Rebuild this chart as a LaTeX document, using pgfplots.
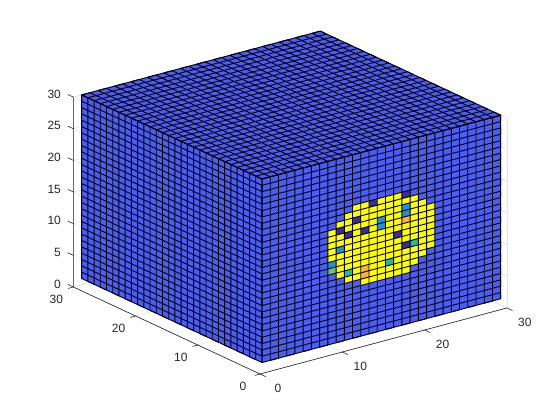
\documentclass[border=0pt]{standalone}
\usepackage{pgfplots}
\pgfplotsset{compat=1.18}
\usepackage{fontspec}
\setmainfont{Liberation Sans}
\definecolor{vox}{HTML}{4A5DF6}
\definecolor{vyel}{HTML}{FFFF00}
\definecolor{vpur}{HTML}{3A2CA0}
\definecolor{vblu}{HTML}{2090E0}
\definecolor{vtea}{HTML}{20B8B0}
\definecolor{vgre}{HTML}{70C070}
\definecolor{vora}{HTML}{FDB040}
\definecolor{axc}{HTML}{262626}
\definecolor{grc}{HTML}{E3E3E3}
\begin{document}
\begin{tikzpicture}[x=1pt,y=1pt]
\path[use as bounding box] (0,0) rectangle (560,420);
\begin{axis}[
  anchor=origin, at={(260pt,46pt)},
  x={(8.23pt,2.2pt)}, y={(-6.22pt,2.9pt)}, z={(0pt,6.33pt)},
  xmin=0,xmax=30,ymin=0,ymax=30,zmin=0,zmax=30,
  xtick={0,10,20,30}, ytick={0,10,20,30}, ztick={0,5,10,15,20,25,30},
  clip=false,
  grid=major, grid style={color=grc,line width=0.6pt},
  axis line style={color=grc,line width=0.6pt},
  tick pos=left, major tick length=0pt,
  /pgf/number format/assume math mode=true,
  tick label style={font=\fontsize{12}{14}\selectfont,text=axc},
  xticklabel style={anchor=center,xshift=18pt,yshift=-14pt},
  yticklabel style={anchor=center,xshift=-17pt,yshift=-12.5pt},
  zticklabel style={anchor=east,xshift=-9pt,yshift=3pt},
  edge/.style={color=black,line width=0.9pt,line join=bevel,mark=none},
]
% short light marks on the walls
\addplot3[color=grc,line width=0.6pt] coordinates {
(0,30,5)(0,28.7,5)

(0,30,10)(0,28.7,10)

(0,30,15)(0,28.7,15)

(0,30,20)(0,28.7,20)

(0,30,25)(0,28.7,25)

(0,30,30)(0,28.7,30)

(30,0,5)(30,1,5)

(30,0,10)(30,1,10)

(30,0,15)(30,1,15)

(30,0,20)(30,1,20)

(30,0,25)(30,1,25)
};
% dark axis lines
\addplot3[color=axc,line width=0.6pt] coordinates {(30,0,0)(0,0,0)(0,30,0)(0,30,30)};
% dark tick marks
\addplot3[color=axc,line width=0.6pt] coordinates {
(0,0,0)(0,-0.9,0)

(10,0,0)(10,-0.9,0)

(20,0,0)(20,-0.9,0)

(30,0,0)(30,-0.9,0)

(0,0,0)(-0.65,0,0)

(0,10,0)(-0.65,10,0)

(0,20,0)(-0.65,20,0)

(0,30,0)(-0.65,30,0)

(0,30,0)(0,30.9,0)

(0,30,5)(0,30.9,5)

(0,30,10)(0,30.9,10)

(0,30,15)(0,30.9,15)

(0,30,20)(0,30.9,20)

(0,30,25)(0,30.9,25)

(0,30,30)(0,30.9,30)
};
% faces
\addplot3[fill=vox,draw=none] coordinates {(1,1,30)(30,1,30)(30,30,30)(1,30,30)};
\addplot3[fill=vox,draw=none] coordinates {(1,1,1)(1,30,1)(1,30,30)(1,1,30)};
\addplot3[fill=vox,draw=none] coordinates {(1,1,1)(30,1,1)(30,1,30)(1,1,30)};
% yellow cells by column, right face
\addplot3[fill=vyel,draw=none] coordinates {
(9,1,12)(10,1,12)(10,1,19)(9,1,19)

(10,1,11)(11,1,11)(11,1,20)(10,1,20)

(11,1,10)(12,1,10)(12,1,21)(11,1,21)

(12,1,10)(13,1,10)(13,1,22)(12,1,22)

(13,1,9)(14,1,9)(14,1,22)(13,1,22)

(14,1,9)(15,1,9)(15,1,22)(14,1,22)

(15,1,9)(16,1,9)(16,1,22)(15,1,22)

(16,1,9)(17,1,9)(17,1,22)(16,1,22)

(17,1,9)(18,1,9)(18,1,22)(17,1,22)

(18,1,9)(19,1,9)(19,1,22)(18,1,22)

(19,1,10)(20,1,10)(20,1,21)(19,1,21)

(20,1,11)(21,1,11)(21,1,20)(20,1,20)

(21,1,12)(22,1,12)(22,1,19)(21,1,19)
};
% dark purple cells
\addplot3[fill=vpur,draw=none] coordinates {
(10,1,18)(11,1,18)(11,1,19)(10,1,19)

(11,1,17)(12,1,17)(12,1,18)(11,1,18)

(12,1,19)(13,1,19)(13,1,20)(12,1,20)

(13,1,17)(14,1,17)(14,1,18)(13,1,18)

(14,1,21)(15,1,21)(15,1,22)(14,1,22)

(17,1,15)(18,1,15)(18,1,16)(17,1,16)

(18,1,21)(19,1,21)(19,1,22)(18,1,22)

(18,1,13)(19,1,13)(19,1,14)(18,1,14)
};
% blue cells
\addplot3[fill=vblu,draw=none] coordinates {
(9,1,13)(10,1,13)(10,1,14)(9,1,14)

(10,1,15)(11,1,15)(11,1,16)(10,1,16)

(15,1,17)(16,1,17)(16,1,19)(15,1,19)

(18,1,18)(19,1,18)(19,1,20)(18,1,20)
};
% teal cells
\addplot3[fill=vtea,draw=none] coordinates {
(11,1,11)(12,1,11)(12,1,12)(11,1,12)

(16,1,11)(17,1,11)(17,1,12)(16,1,12)

(19,1,13)(20,1,13)(20,1,14)(19,1,14)
};
% green cell
\addplot3[fill=vgre,draw=none] coordinates {(9,1,12)(10,1,12)(10,1,13)(9,1,13)};
% orange cells
\addplot3[fill=vora,draw=none] coordinates {
(13,1,10)(14,1,10)(14,1,12)(13,1,12)

(18,1,17)(19,1,17)(19,1,18)(18,1,18)
};
% top face, lines of constant x
\addplot3[edge] coordinates {(1,1,30)(1,30,30)(2,30,30)(2,1,30)(3,1,30)(3,30,30)(4,30,30)(4,1,30)(5,1,30)(5,30,30)(6,30,30)(6,1,30)(7,1,30)(7,30,30)(8,30,30)(8,1,30)(9,1,30)(9,30,30)(10,30,30)(10,1,30)(11,1,30)(11,30,30)(12,30,30)(12,1,30)(13,1,30)(13,30,30)(14,30,30)(14,1,30)(15,1,30)(15,30,30)(16,30,30)(16,1,30)(17,1,30)(17,30,30)(18,30,30)(18,1,30)(19,1,30)(19,30,30)(20,30,30)(20,1,30)(21,1,30)(21,30,30)(22,30,30)(22,1,30)(23,1,30)(23,30,30)(24,30,30)(24,1,30)(25,1,30)(25,30,30)(26,30,30)(26,1,30)(27,1,30)(27,30,30)(28,30,30)(28,1,30)(29,1,30)(29,30,30)(30,30,30)(30,1,30)};
% top face, lines of constant y
\addplot3[edge] coordinates {(1,1,30)(30,1,30)(30,2,30)(1,2,30)(1,3,30)(30,3,30)(30,4,30)(1,4,30)(1,5,30)(30,5,30)(30,6,30)(1,6,30)(1,7,30)(30,7,30)(30,8,30)(1,8,30)(1,9,30)(30,9,30)(30,10,30)(1,10,30)(1,11,30)(30,11,30)(30,12,30)(1,12,30)(1,13,30)(30,13,30)(30,14,30)(1,14,30)(1,15,30)(30,15,30)(30,16,30)(1,16,30)(1,17,30)(30,17,30)(30,18,30)(1,18,30)(1,19,30)(30,19,30)(30,20,30)(1,20,30)(1,21,30)(30,21,30)(30,22,30)(1,22,30)(1,23,30)(30,23,30)(30,24,30)(1,24,30)(1,25,30)(30,25,30)(30,26,30)(1,26,30)(1,27,30)(30,27,30)(30,28,30)(1,28,30)(1,29,30)(30,29,30)(30,30,30)(1,30,30)};
% left face, vertical
\addplot3[edge] coordinates {(1,1,1)(1,1,30)(1,2,30)(1,2,1)(1,3,1)(1,3,30)(1,4,30)(1,4,1)(1,5,1)(1,5,30)(1,6,30)(1,6,1)(1,7,1)(1,7,30)(1,8,30)(1,8,1)(1,9,1)(1,9,30)(1,10,30)(1,10,1)(1,11,1)(1,11,30)(1,12,30)(1,12,1)(1,13,1)(1,13,30)(1,14,30)(1,14,1)(1,15,1)(1,15,30)(1,16,30)(1,16,1)(1,17,1)(1,17,30)(1,18,30)(1,18,1)(1,19,1)(1,19,30)(1,20,30)(1,20,1)(1,21,1)(1,21,30)(1,22,30)(1,22,1)(1,23,1)(1,23,30)(1,24,30)(1,24,1)(1,25,1)(1,25,30)(1,26,30)(1,26,1)(1,27,1)(1,27,30)(1,28,30)(1,28,1)(1,29,1)(1,29,30)(1,30,30)(1,30,1)};
% left face, horizontal
\addplot3[edge] coordinates {(1,1,1)(1,30,1)(1,30,2)(1,1,2)(1,1,3)(1,30,3)(1,30,4)(1,1,4)(1,1,5)(1,30,5)(1,30,6)(1,1,6)(1,1,7)(1,30,7)(1,30,8)(1,1,8)(1,1,9)(1,30,9)(1,30,10)(1,1,10)(1,1,11)(1,30,11)(1,30,12)(1,1,12)(1,1,13)(1,30,13)(1,30,14)(1,1,14)(1,1,15)(1,30,15)(1,30,16)(1,1,16)(1,1,17)(1,30,17)(1,30,18)(1,1,18)(1,1,19)(1,30,19)(1,30,20)(1,1,20)(1,1,21)(1,30,21)(1,30,22)(1,1,22)(1,1,23)(1,30,23)(1,30,24)(1,1,24)(1,1,25)(1,30,25)(1,30,26)(1,1,26)(1,1,27)(1,30,27)(1,30,28)(1,1,28)(1,1,29)(1,30,29)(1,30,30)(1,1,30)};
% right face, vertical
\addplot3[edge] coordinates {(1,1,1)(1,1,30)(2,1,30)(2,1,1)(3,1,1)(3,1,30)(4,1,30)(4,1,1)(5,1,1)(5,1,30)(6,1,30)(6,1,1)(7,1,1)(7,1,30)(8,1,30)(8,1,1)(9,1,1)(9,1,30)(10,1,30)(10,1,1)(11,1,1)(11,1,30)(12,1,30)(12,1,1)(13,1,1)(13,1,30)(14,1,30)(14,1,1)(15,1,1)(15,1,30)(16,1,30)(16,1,1)(17,1,1)(17,1,30)(18,1,30)(18,1,1)(19,1,1)(19,1,30)(20,1,30)(20,1,1)(21,1,1)(21,1,30)(22,1,30)(22,1,1)(23,1,1)(23,1,30)(24,1,30)(24,1,1)(25,1,1)(25,1,30)(26,1,30)(26,1,1)(27,1,1)(27,1,30)(28,1,30)(28,1,1)(29,1,1)(29,1,30)(30,1,30)(30,1,1)};
% right face, horizontal
\addplot3[edge] coordinates {(1,1,1)(30,1,1)(30,1,2)(1,1,2)(1,1,3)(30,1,3)(30,1,4)(1,1,4)(1,1,5)(30,1,5)(30,1,6)(1,1,6)(1,1,7)(30,1,7)(30,1,8)(1,1,8)(1,1,9)(30,1,9)(30,1,10)(1,1,10)(1,1,11)(30,1,11)(30,1,12)(1,1,12)(1,1,13)(30,1,13)(30,1,14)(1,1,14)(1,1,15)(30,1,15)(30,1,16)(1,1,16)(1,1,17)(30,1,17)(30,1,18)(1,1,18)(1,1,19)(30,1,19)(30,1,20)(1,1,20)(1,1,21)(30,1,21)(30,1,22)(1,1,22)(1,1,23)(30,1,23)(30,1,24)(1,1,24)(1,1,25)(30,1,25)(30,1,26)(1,1,26)(1,1,27)(30,1,27)(30,1,28)(1,1,28)(1,1,29)(30,1,29)(30,1,30)(1,1,30)};
\end{axis}
\end{tikzpicture}
\end{document}
